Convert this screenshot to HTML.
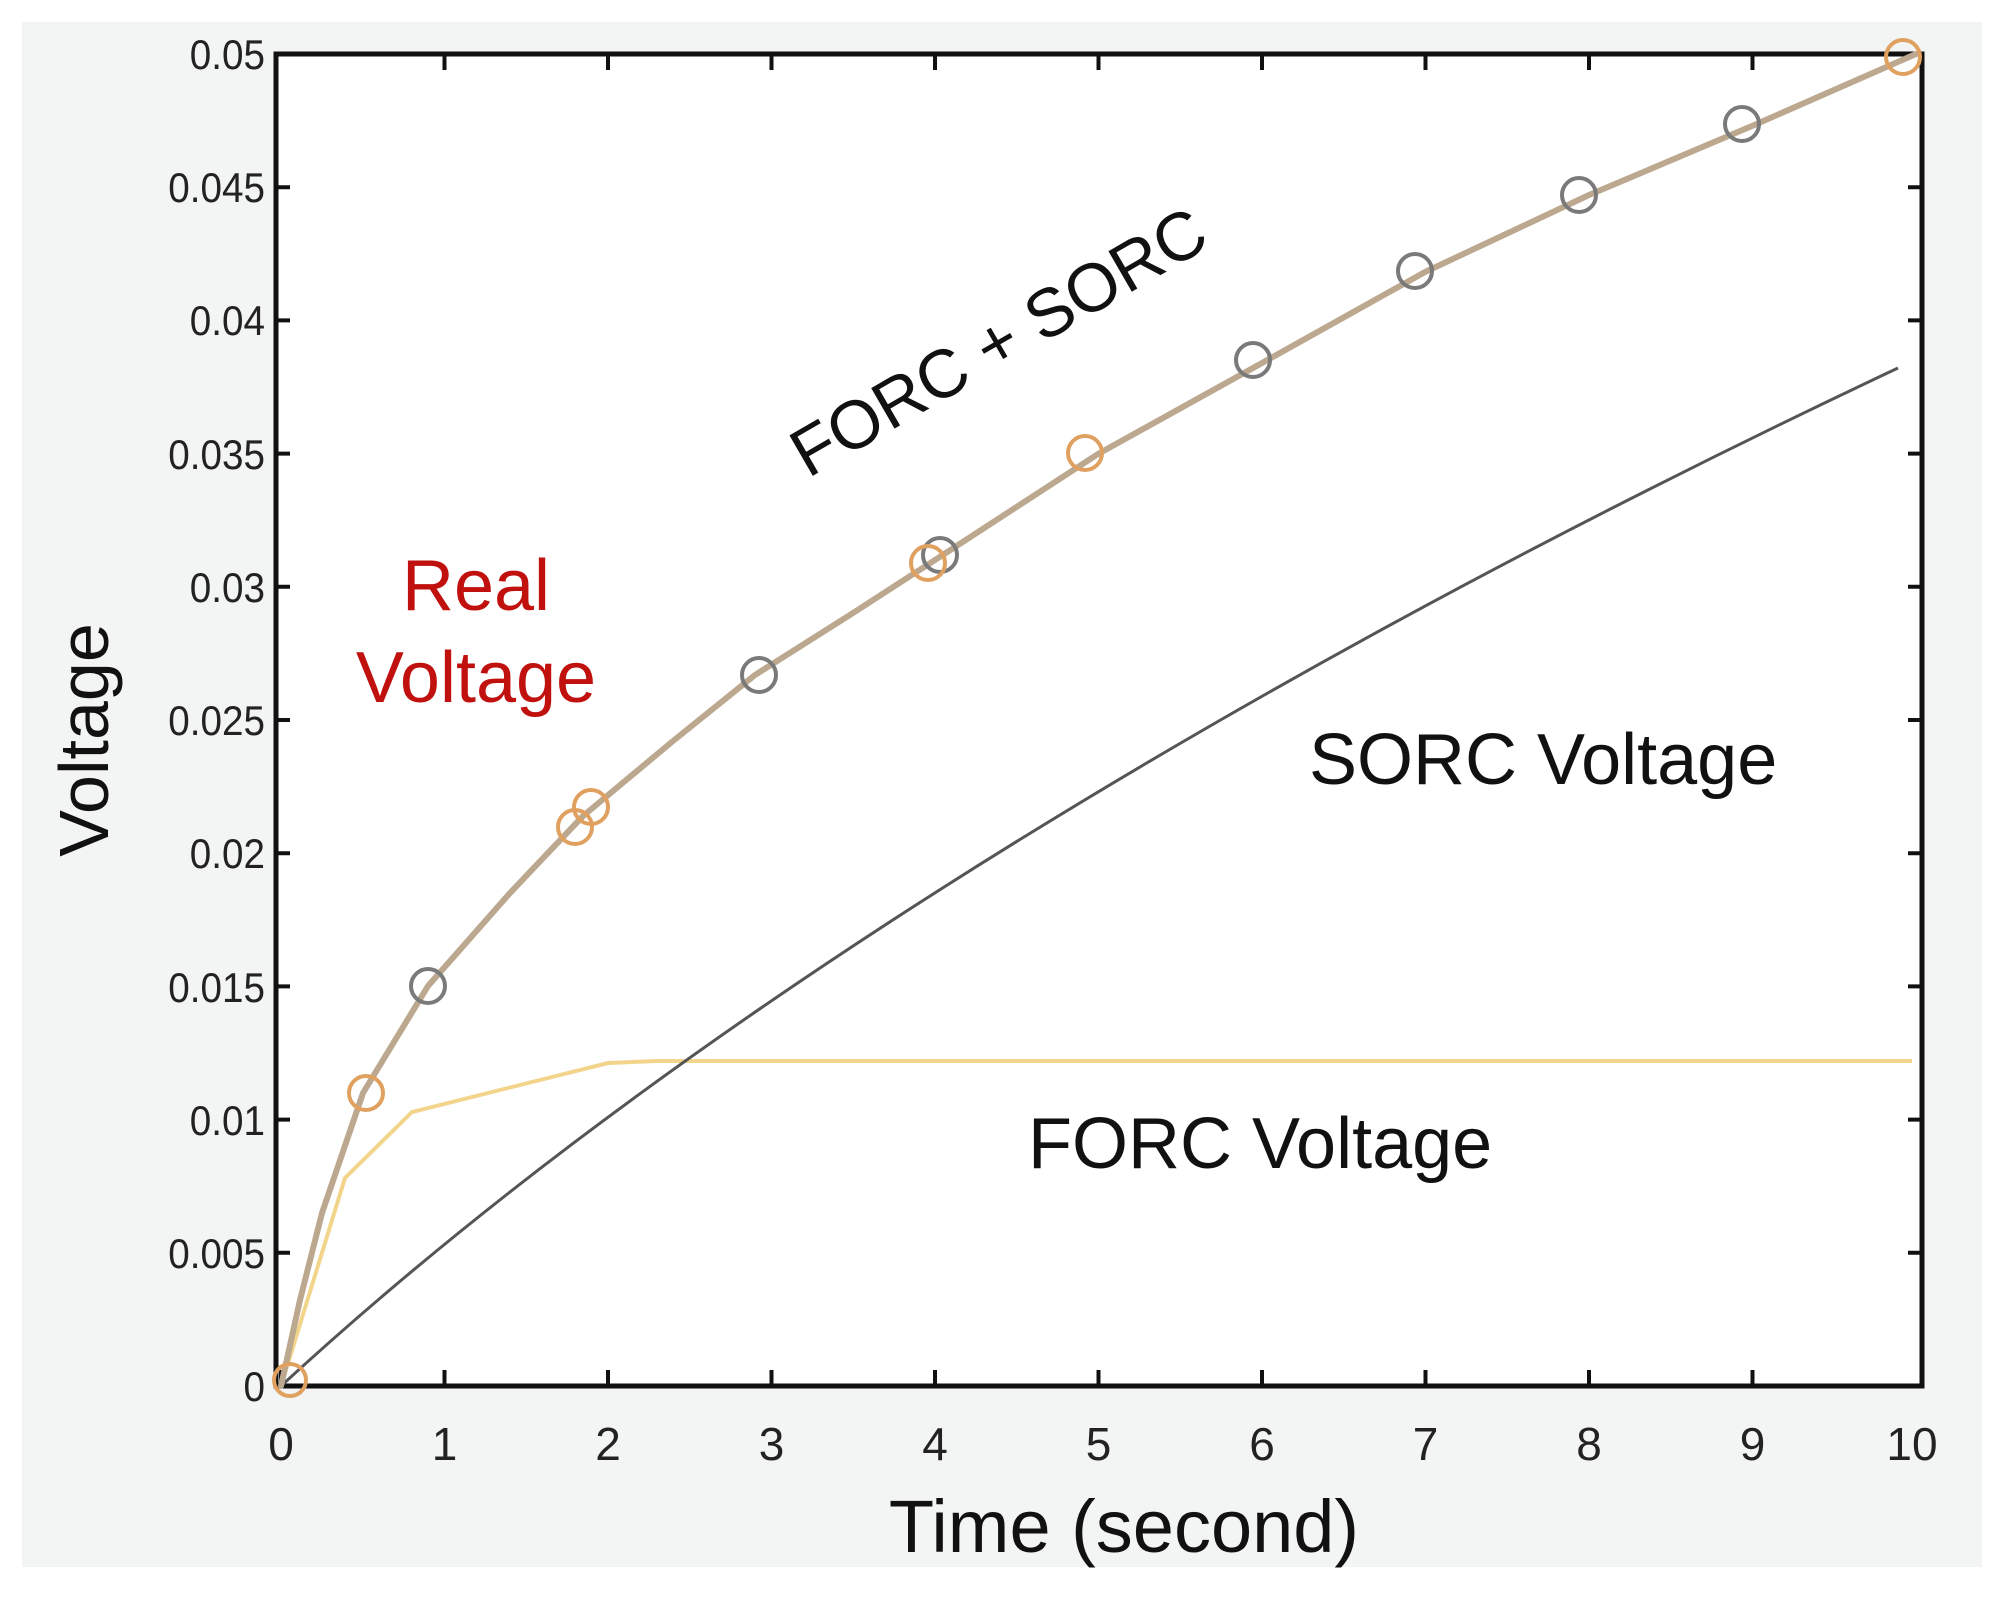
<!DOCTYPE html>
<html><head><meta charset="utf-8"><style>
html,body{margin:0;padding:0;background:#fff;}
svg{display:block;}
text{font-family:"Liberation Sans",sans-serif;}
</style></head><body>
<svg width="2002" height="1610" viewBox="0 0 2002 1610" xmlns="http://www.w3.org/2000/svg">
<rect x="0" y="0" width="2002" height="1610" fill="#fff"/>
<rect x="22" y="22" width="1960" height="1545" fill="#f3f4f4"/>
<rect x="276" y="54" width="1646" height="1332" fill="#fff"/>
<g stroke="#111" stroke-width="4">
<path d="M281 1386v-16M444.5 1386v-16M608 1386v-16M771.5 1386v-16M935 1386v-16M1098.5 1386v-16M1262 1386v-16M1425.5 1386v-16M1589 1386v-16M1752.5 1386v-16"/>
<path d="M444.5 54v16M608 54v16M771.5 54v16M935 54v16M1098.5 54v16M1262 54v16M1425.5 54v16M1589 54v16M1752.5 54v16"/>
<path d="M276 1252.8h14M276 1119.6h14M276 986.4h14M276 853.2h14M276 720h14M276 586.8h14M276 453.6h14M276 320.4h14M276 187.2h14"/>
<path d="M1922 1252.8h-14M1922 1119.6h-14M1922 986.4h-14M1922 853.2h-14M1922 720h-14M1922 586.8h-14M1922 453.6h-14M1922 320.4h-14M1922 187.2h-14"/>
</g>
<rect x="276" y="54" width="1646" height="1332" fill="none" stroke="#111" stroke-width="5"/>
<g font-size="42" fill="#222" text-anchor="end" transform="scale(0.92,1)">
<text x="288" y="1401">0</text>
<text x="288" y="1268">0.005</text>
<text x="288" y="1135">0.01</text>
<text x="288" y="1002">0.015</text>
<text x="288" y="868">0.02</text>
<text x="288" y="735">0.025</text>
<text x="288" y="602">0.03</text>
<text x="288" y="469">0.035</text>
<text x="288" y="335">0.04</text>
<text x="288" y="202">0.045</text>
<text x="288" y="69">0.05</text>
</g>
<g font-size="46" fill="#222" text-anchor="middle">
<text x="281" y="1460">0</text><text x="444.5" y="1460">1</text><text x="608" y="1460">2</text><text x="771.5" y="1460">3</text><text x="935" y="1460">4</text><text x="1098.5" y="1460">5</text><text x="1262" y="1460">6</text><text x="1425.5" y="1460">7</text><text x="1589" y="1460">8</text><text x="1752.5" y="1460">9</text><text x="1912" y="1460">10</text>
</g>
<text x="1124" y="1552" font-size="74" text-anchor="middle" fill="#111">Time (second)</text>
<text transform="translate(108,740) rotate(-90)" font-size="70" text-anchor="middle" fill="#111">Voltage</text>
<polyline fill="none" stroke="#f2d58a" stroke-width="4" points="281,1386 345,1178 412,1112 608,1063 657,1061 1912,1061"/>
<path fill="none" stroke="#555" stroke-width="3" d="M281,1386 C700,1000 1300,650 1898,368"/>
<polyline fill="none" stroke="#bca88f" stroke-width="6" stroke-linejoin="round" stroke-linecap="round" points="281,1386 300,1300 322,1213 363,1093 428,986 510,893 583,816 673,741 755,675 853,613 935,560 1098,454 1262,363 1425,272 1589,195 1752,126 1916,54"/>
<g fill="none" stroke-width="4">
<g stroke="#7a7a7a">
<circle cx="428" cy="986" r="17"/><circle cx="759" cy="675" r="17"/><circle cx="940" cy="555" r="17"/><circle cx="1253" cy="360" r="17"/><circle cx="1415" cy="271" r="17"/><circle cx="1579" cy="195" r="17"/><circle cx="1742" cy="124" r="17"/>
</g>
<g stroke="#e0a060">
<circle cx="290" cy="1380" r="16"/><circle cx="366" cy="1093" r="17"/><circle cx="575" cy="827" r="17"/><circle cx="591" cy="807" r="17"/><circle cx="928" cy="563" r="17"/><circle cx="1085" cy="453" r="17"/><circle cx="1903" cy="57" r="17"/>
</g>
</g>
<text transform="translate(1010,362) rotate(-30)" font-size="68" text-anchor="middle" fill="#111">FORC + SORC</text>
<text x="476" y="610" font-size="72" text-anchor="middle" fill="#c0110f">Real</text>
<text x="476" y="702" font-size="72" text-anchor="middle" fill="#c0110f">Voltage</text>
<text x="1309" y="784" font-size="72" fill="#111">SORC Voltage</text>
<text x="1028" y="1168" font-size="72" fill="#111">FORC Voltage</text>
</svg>
</body></html>
